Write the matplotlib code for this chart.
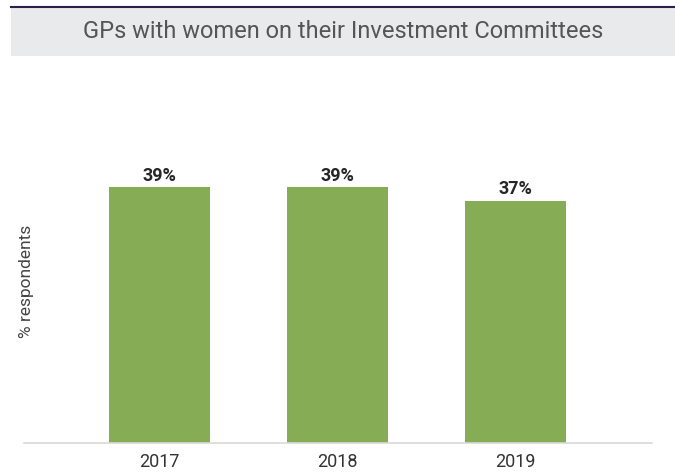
import matplotlib
matplotlib.use("Agg")
from matplotlib import pyplot as plt
from matplotlib.patches import Rectangle
from matplotlib.lines import Line2D

years = ["2017", "2018", "2019"]
share = [39, 39, 37]

plt.rcParams['font.family'] = ['Roboto', 'DejaVu Sans']

fig = plt.figure(figsize=(6.75, 4.75), dpi=100)

# header band with a thin dark rule on top
fig.patches.append(Rectangle((11 / 675, 1 - 56 / 475), 1 - 11 / 675, 48 / 475,
                             transform=fig.transFigure, facecolor="#e8eaec",
                             edgecolor="none", zorder=0))
fig.lines.append(Line2D([11 / 675, 1], [1 - 7 / 475, 1 - 7 / 475],
                        transform=fig.transFigure, color="#2d1f47", linewidth=1.5))
fig.text(343 / 675, 1 - 32 / 475, "GPs with women on their Investment Committees",
         ha="center", va="center", fontsize=17, color="#555555")

ax = fig.add_axes([24 / 675, 32 / 475, 628 / 675, 367 / 475])
x = list(range(len(years)))
bars = ax.bar(x, share, width=0.567, color="#86ad55")
for b, v in zip(bars, share):
    ax.text(b.get_x() + b.get_width() / 2, v + 0.4, f"{v}%", ha="center", va="bottom",
            fontsize=13, fontweight="bold", color="#262626")

ax.set_xlim(-0.762, 2.767)
ax.set_ylim(0, 56)
ax.set_xticks(x)
ax.set_xticklabels(years, fontsize=13, color="#333333")
ax.set_yticks([])
ax.tick_params(axis="x", length=0, pad=7)
for s in ["top", "right", "left"]:
    ax.spines[s].set_visible(False)
ax.spines["bottom"].set_color("#d9d9d9")
ax.spines["bottom"].set_linewidth(1.2)
ax.set_ylabel("% respondents", fontsize=12.5, color="#444444")
ax.yaxis.set_label_coords(0.016, 0.44)

fig.savefig("out.png", dpi=100)
